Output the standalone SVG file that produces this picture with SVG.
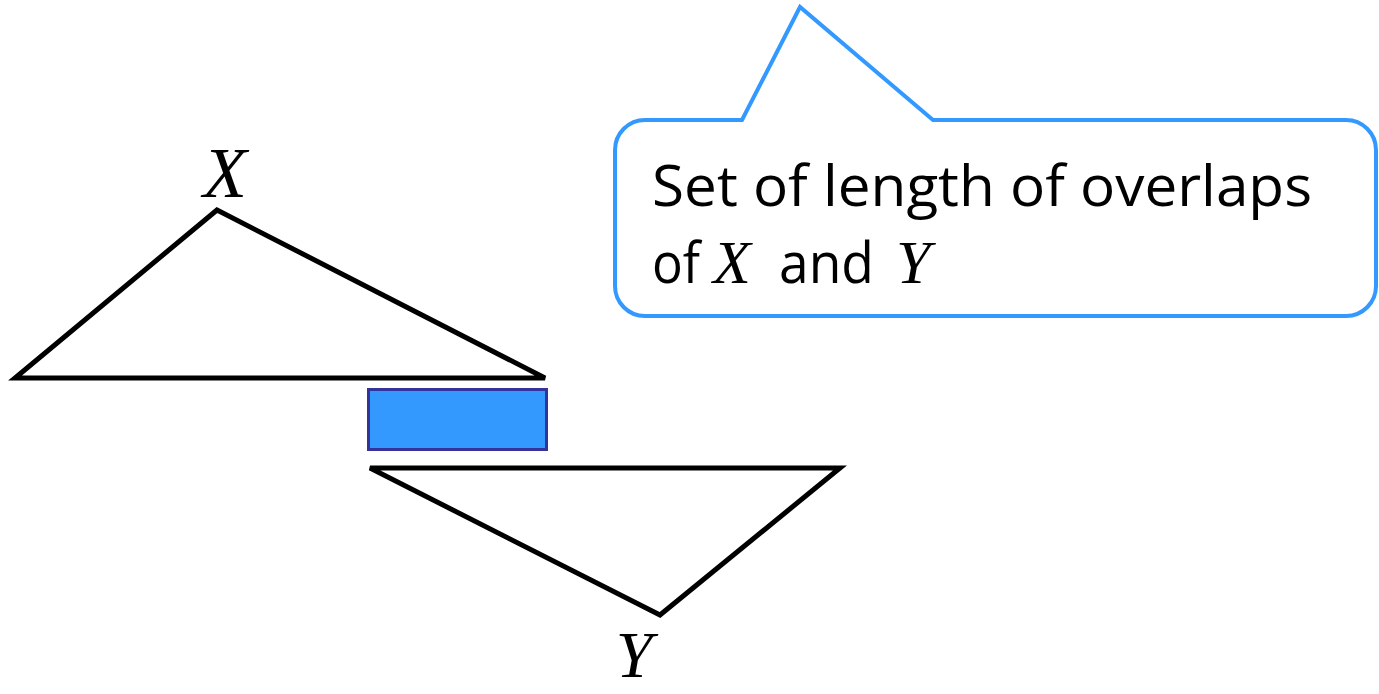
<svg xmlns="http://www.w3.org/2000/svg" width="1379" height="694" viewBox="0 0 1379 694">
<style>
.tri{fill:none;stroke:#000;stroke-width:5;stroke-linejoin:miter;stroke-linecap:round}
.lbl{font-family:"Liberation Serif",serif;font-style:italic;fill:#000}
.sans{font-family:"Open Sans","Noto Sans",sans-serif;fill:#000}
</style>
<rect width="1379" height="694" fill="#fff"/>
<g id="triX">
<polygon class="tri" points="217,210 15,378 545,378"/>
<text class="lbl" x="225" y="197" font-size="72" text-anchor="middle">X</text>
</g>
<g id="overlap">
<rect x="368.5" y="389.5" width="178" height="60" fill="#3399ff" stroke="#333399" stroke-width="3"/>
</g>
<g id="triY">
<polygon class="tri" points="370,468 840,468 660,615"/>
<text class="lbl" x="634" y="677" font-size="66" text-anchor="middle">Y</text>
</g>
<g id="callout">
<path d="M645,120 L742,120 L800,7 L933,120 L1346,120 A30,30 0 0 1 1376,150 L1376,286 A30,30 0 0 1 1346,316 L645,316 A30,30 0 0 1 615,286 L615,150 A30,30 0 0 1 645,120 Z" fill="#fff" stroke="#3399ff" stroke-width="4" stroke-linejoin="miter"/>
<text class="sans" x="652" y="206" font-size="56" textLength="660" lengthAdjust="spacingAndGlyphs">Set of length of overlaps</text>
<text class="sans" x="652" y="283" font-size="56" textLength="48" lengthAdjust="spacingAndGlyphs">of</text>
<text class="lbl" x="713" y="283" font-size="62">X</text>
<text class="sans" x="779" y="283" font-size="56" textLength="95" lengthAdjust="spacingAndGlyphs">and</text>
<text class="lbl" x="896" y="283" font-size="62">Y</text>
</g>
<g id="connectors"></g>
</svg>
